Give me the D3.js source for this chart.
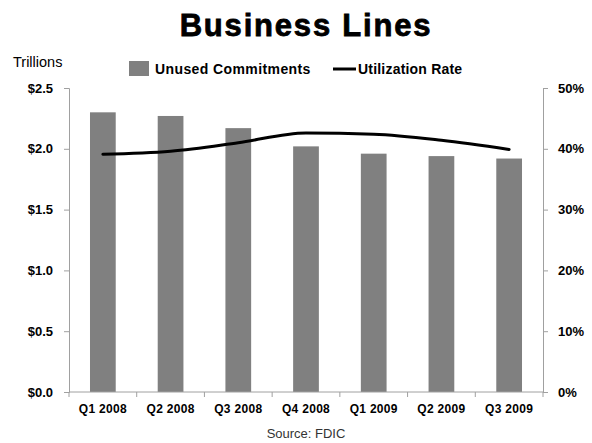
<!DOCTYPE html>
<html>
<head>
<meta charset="utf-8">
<script src="https://cdn.jsdelivr.net/npm/d3@7"></script>
<style>
  body { margin: 0; background: #fff; }
  text { font-family: "Liberation Sans", Arial, sans-serif; }
</style>
</head>
<body>
<script>
// chart data
const quarters = ['Q1 2008', 'Q2 2008', 'Q3 2008', 'Q4 2008', 'Q1 2009', 'Q2 2009', 'Q3 2009']
const unused = [2.30, 2.27, 2.17, 2.02, 1.96, 1.94, 1.92]
const utilization = [39.1, 39.6, 41.0, 42.6, 42.4, 41.4, 39.9]
const leftTicks = [0, 0.5, 1.0, 1.5, 2.0, 2.5]
const rightTicks = [0, 10, 20, 30, 40, 50]

const W = 592, H = 443
const margin = { top: 88, bottom: 51, left: 69, right: 49 }
const width = W - margin.left - margin.right
const height = H - margin.top - margin.bottom

const svg = d3.select('body').append('svg')
	.attr('width', W)
	.attr('height', H)

const g = svg.append('g').attr('transform', `translate(${margin.left},${margin.top})`)

const x = d3.scaleBand().domain(quarters).range([0, width]).paddingInner(0.62).paddingOuter(0.31)
const yL = d3.scaleLinear().domain([0, 2.5]).range([height, 0])
const yR = d3.scaleLinear().domain([0, 50]).range([height, 0])

// bars
g.selectAll('rect.bar')
	.data(quarters)
	.join('rect')
	.attr('class', 'bar')
	.attr('x', d => x(d))
	.attr('width', x.bandwidth())
	.attr('y', (d, i) => yL(unused[i]))
	.attr('height', (d, i) => height - yL(unused[i]))
	.attr('fill', '#808080')

// utilization line
const line = d3.line()
	.x((d, i) => x(quarters[i]) + x.bandwidth() / 2)
	.y(d => yR(d))
	.curve(d3.curveMonotoneX)

g.append('path')
	.datum(utilization)
	.attr('d', line)
	.attr('fill', 'none')
	.attr('stroke', '#000')
	.attr('stroke-width', 3)
	.attr('stroke-linecap', 'round')

// axes
const axisColor = '#a0a0a0'
const styleAxis = sel => {
	sel.select('.domain').attr('stroke', axisColor)
	sel.selectAll('.tick line').attr('stroke', axisColor)
	sel.selectAll('text').attr('font-weight', 'bold').attr('font-size', 13).attr('fill', '#000')
	  .style('font-family', '"Liberation Sans", Arial, sans-serif')
}

const gL = g.append('g')
	.call(d3.axisLeft(yL).tickValues(leftTicks).tickFormat(d => '$' + d.toFixed(1)).tickSize(5).tickSizeOuter(5).tickPadding(11))
	.call(styleAxis)

const gR = g.append('g')
	.attr('transform', `translate(${width},0)`)
	.call(d3.axisRight(yR).tickValues(rightTicks).tickFormat(d => d + '%').tickSize(5).tickSizeOuter(5).tickPadding(10))
	.call(styleAxis)

const gX = g.append('g')
	.attr('transform', `translate(0,${height})`)
	.call(d3.axisBottom(x).tickSize(0).tickPadding(12))
	.call(styleAxis)
gX.selectAll('text').attr('font-size', 12).attr('letter-spacing', 0.3)
gX.select('.domain').attr('d', `M0,0H${width}`)
// category separators
gX.selectAll('line.sep')
	.data(d3.range(quarters.length + 1))
	.join('line')
	.attr('class', 'sep')
	.attr('x1', i => i * width / quarters.length)
	.attr('x2', i => i * width / quarters.length)
	.attr('y1', 0).attr('y2', 5)
	.attr('stroke', axisColor)

// title
svg.append('text')
	.attr('x', 306).attr('y', 36)
	.attr('text-anchor', 'middle')
	.attr('font-size', 31)
	.attr('font-weight', 'bold')
	.attr('letter-spacing', 1.8)
	.attr('stroke', '#000')
	.attr('stroke-width', 0.8)
	.text('Business Lines')

svg.append('text')
	.attr('x', 13).attr('y', 67)
	.attr('font-size', 14.5)
	.text('Trillions')

// legend
const lg = svg.append('g')
lg.append('rect').attr('x', 129).attr('y', 61).attr('width', 20).attr('height', 15).attr('fill', '#808080')
lg.append('text').attr('x', 155).attr('y', 74).attr('font-size', 14).attr('font-weight', 'bold').attr('letter-spacing', 0.4).text('Unused Commitments')
lg.append('line').attr('x1', 333).attr('x2', 356).attr('y1', 69).attr('y2', 69).attr('stroke', '#000').attr('stroke-width', 3)
lg.append('text').attr('x', 358).attr('y', 74).attr('font-size', 14).attr('font-weight', 'bold').attr('letter-spacing', 0.2).text('Utilization Rate')

svg.append('text')
	.attr('x', 306).attr('y', 438)
	.attr('text-anchor', 'middle')
	.attr('font-size', 13)
	.attr('fill', '#333')
	.text('Source: FDIC')
</script>
</body>
</html>
